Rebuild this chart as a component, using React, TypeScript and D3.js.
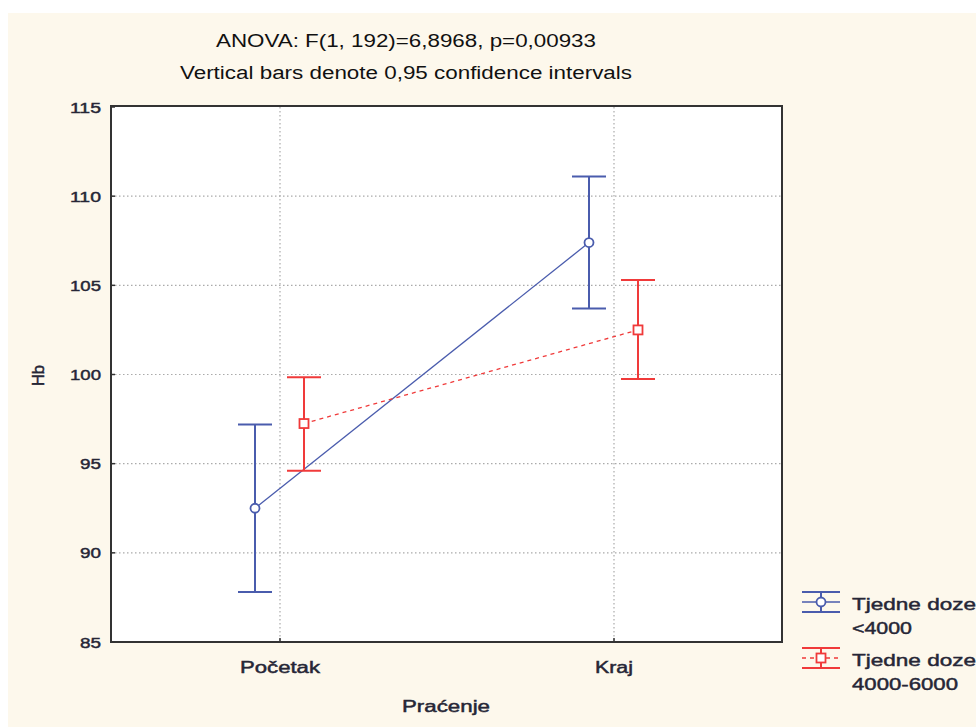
import React from "react";
import * as d3 from "d3";

const categories = ["Početak", "Kraj"];
const seriesNames = [["Tjedne doze", "<4000"], ["Tjedne doze", "4000-6000"]];
const seriesColors = ["#4a5cad", "#f03a3a"];
const blueMean = [92.5, 107.4];
const blueLow = [87.8, 103.7];
const blueHigh = [97.2, 111.1];
const redMean = [97.25, 102.5];
const redLow = [94.6, 99.75];
const redHigh = [99.85, 105.3];
const yTicks = [85, 90, 95, 100, 105, 110, 115];
const titleLines = ["ANOVA: F(1, 192)=6,8968, p=0,00933", "Vertical bars denote 0,95 confidence intervals"];

const W = 976, H = 727;
const L = 111, R = 782, T = 107, B = 642;
const FONT = "'Liberation Sans', Arial, sans-serif";
const TXT = "#262636";

export default function App() {
  const y = d3.scaleLinear().domain([85, 115]).range([B, T]);
  const x = d3.scalePoint<string>().domain(categories).range([280, 614]);
  const off = [-25, 24];
  const series = [
    { mean: blueMean, low: blueLow, high: blueHigh, color: seriesColors[0], dash: "", marker: "circle" },
    { mean: redMean, low: redLow, high: redHigh, color: seriesColors[1], dash: "4,4", marker: "square" },
  ];
  const line = d3.line<[number, number]>().x(d => d[0]).y(d => d[1]);
  const titleW = [380, 452];
  const catW = [80, 38];
  const tickW = (v: number) => (String(v).length === 3 ? 31 : 21);
  const legW = [[124, 60], [124, 106]];
  const medium = { fontFamily: FONT, fill: TXT, stroke: TXT, strokeWidth: 0.45 } as const;
  return (
    <svg width={W} height={H} style={{ position: "absolute", left: 0, top: 0 }}>
      <rect x={0} y={0} width={W} height={H} fill="#ffffff" />
      <rect x={8} y={13} width={W - 8} height={H - 13} fill="#fdf8ec" />
      <rect x={L} y={T - 1} width={R - L} height={B - T + 1} fill="#ffffff" />
      {titleLines.map((t, i) => (
        <text key={i} x={406 - titleW[i] / 2} y={47 + i * 32} textLength={titleW[i]} lengthAdjust="spacingAndGlyphs" fontFamily={FONT} fontSize={18} fill="#111">{t}</text>
      ))}
      {yTicks.filter(v => v > 85 && v < 115).map(v => (
        <line key={v} x1={L} x2={R} y1={y(v)} y2={y(v)} stroke="#aaa" strokeDasharray="1.5,2.5" strokeWidth={1.2} />
      ))}
      {categories.map(c => (
        <line key={c} x1={x(c)} x2={x(c)} y1={T} y2={B} stroke="#aaa" strokeDasharray="1.5,2.5" strokeWidth={1.2} />
      ))}
      <rect x={L} y={T - 1} width={R - L} height={B - T + 1} fill="none" stroke="#333" strokeWidth={2} />
      {yTicks.map(v => (
        <g key={v}>
          <line x1={L} x2={L + 4} y1={y(v)} y2={y(v)} stroke="#333" strokeWidth={1.5} />
          <text x={101 - tickW(v)} y={y(v) + 5.5} textLength={tickW(v)} lengthAdjust="spacingAndGlyphs" fontSize={15} {...medium}>{v}</text>
        </g>
      ))}
      {categories.map((c, i) => (
        <g key={c}>
          <line x1={x(c)} x2={x(c)} y1={B - 4} y2={B} stroke="#333" strokeWidth={1.5} />
          <text x={(x(c) as number) - catW[i] / 2} y={B + 31} textLength={catW[i]} lengthAdjust="spacingAndGlyphs" fontSize={16} {...medium}>{c}</text>
        </g>
      ))}
      <text x={402} y={712} textLength={88} lengthAdjust="spacingAndGlyphs" fontSize={16} {...medium}>Praćenje</text>
      <text transform={`translate(44,386) rotate(-90)`} textLength={21} lengthAdjust="spacingAndGlyphs" fontSize={16} {...medium}>Hb</text>
      {series.map((s, si) => {
        const pts: [number, number][] = categories.map((c, i) => [(x(c) as number) + off[si], y(s.mean[i])]);
        return (
          <g key={si}>
            <path d={line(pts) || ""} fill="none" stroke={s.color} strokeWidth={1.3} strokeDasharray={s.dash} />
            {categories.map((c, i) => {
              const cx = (x(c) as number) + off[si];
              return (
                <g key={c}>
                  <line x1={cx} x2={cx} y1={y(s.high[i])} y2={y(s.low[i])} stroke={s.color} strokeWidth={2} />
                  <line x1={cx - 17} x2={cx + 17} y1={y(s.high[i])} y2={y(s.high[i])} stroke={s.color} strokeWidth={2} />
                  <line x1={cx - 17} x2={cx + 17} y1={y(s.low[i])} y2={y(s.low[i])} stroke={s.color} strokeWidth={2} />
                  {s.marker === "circle" ? (
                    <circle cx={cx} cy={y(s.mean[i])} r={4.5} fill="#fff" stroke={s.color} strokeWidth={1.8} />
                  ) : (
                    <rect x={cx - 4.5} y={y(s.mean[i]) - 4.5} width={9} height={9} fill="#fff" stroke={s.color} strokeWidth={1.8} />
                  )}
                </g>
              );
            })}
          </g>
        );
      })}
      {series.map((s, si) => {
        const ly = 602 + si * 56;
        const cx = 821;
        return (
          <g key={si}>
            <line x1={cx - 19} x2={cx + 19} y1={ly - 10} y2={ly - 10} stroke={s.color} strokeWidth={2} />
            <line x1={cx - 19} x2={cx + 19} y1={ly + 10} y2={ly + 10} stroke={s.color} strokeWidth={2} />
            <line x1={cx} x2={cx} y1={ly - 10} y2={ly + 10} stroke={s.color} strokeWidth={2} />
            <line x1={cx - 19} x2={cx + 19} y1={ly} y2={ly} stroke={s.color} strokeWidth={1.3} strokeDasharray={s.dash} />
            {s.marker === "circle" ? (
              <circle cx={cx} cy={ly} r={4.5} fill="#fff" stroke={s.color} strokeWidth={1.8} />
            ) : (
              <rect x={cx - 4.5} y={ly - 4.5} width={9} height={9} fill="#fff" stroke={s.color} strokeWidth={1.8} />
            )}
            <text x={852} y={ly + 8} textLength={legW[si][0]} lengthAdjust="spacingAndGlyphs" fontSize={17} {...medium}>{seriesNames[si][0]}</text>
            <text x={852} y={ly + 32} textLength={legW[si][1]} lengthAdjust="spacingAndGlyphs" fontSize={17} {...medium}>{seriesNames[si][1]}</text>
          </g>
        );
      })}
    </svg>
  );
}
